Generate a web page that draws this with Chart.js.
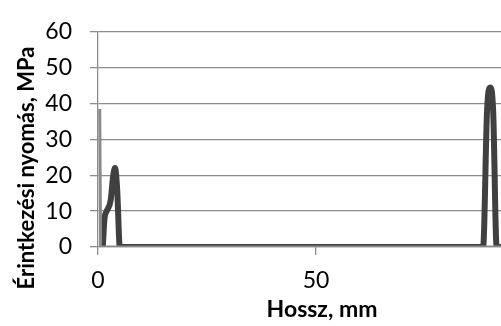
<!DOCTYPE html>
<html>
<head>
<meta charset="utf-8">
<script src="https://cdn.jsdelivr.net/npm/chart.js@4/dist/chart.umd.min.js"></script>
<style>
html,body{margin:0;padding:0;background:#fff;overflow:hidden;}
#wrap{width:501px;height:326px;}
</style>
</head>
<body>
<div id="wrap"><canvas id="c" width="501" height="326"></canvas></div>
<script>
// Series A (light grey): position along length, mm / contact pressure, MPa
const greyX = [0.4, 0.6, 92.4];
const greyY = [38.5, 0, 0];
// Series B (dark grey)
const darkX = [1.1, 1.5, 2.0, 2.9, 3.5, 3.9, 4.4, 5.0, 88.3, 89.2, 89.9, 90.6, 91.4, 92.4];
const darkY = [0, 8, 10, 13, 20, 22, 16, 0, 0, 38, 44.5, 38, 0, 0];
// Axes
const xTicks = [0, 50];
const yTicks = [0, 10, 20, 30, 40, 50, 60];
const xTitle = 'Hossz, mm';
const yTitle = 'Érintkezési nyomás, MPa';

const toPts = (xs, ys) => xs.map((x, i) => ({x, y: ys[i]}));
const FONT = 'Lato';
const GRID = '#8c8c8c';

const titlePlugin = {
  id: 'titles',
  afterDraw(chart) {
    const ctx = chart.ctx;
    ctx.save();
    ctx.fillStyle = '#000';
    ctx.textAlign = 'center';
    ctx.textBaseline = 'alphabetic';
    ctx.font = 'bold 23px ' + FONT;
    ctx.fillText(xTitle, 322, 317);
    ctx.font = 'bold 22px ' + FONT;
    ctx.translate(34, 168);
    ctx.rotate(-Math.PI / 2);
    ctx.fillText(yTitle, 0, 0);
    ctx.restore();
  }
};

new Chart(document.getElementById('c'), {
  type: 'line',
  data: {
    datasets: [
      {
        data: toPts(darkX, darkY),
        borderColor: '#404040',
        borderWidth: 6,
        pointRadius: 0,
        cubicInterpolationMode: 'monotone',
        borderJoinStyle: 'round',
        borderCapStyle: 'round',
        fill: false,
        order: 2
      },
      {
        data: toPts(greyX, greyY),
        borderColor: '#8a8a8a',
        borderWidth: 3,
        pointRadius: 0,
        tension: 0,
        fill: false,
        order: 1
      }
    ]
  },
  options: {
    responsive: false,
    animation: false,
    events: [],
    layout: {padding: {top: 23, left: 0, right: 0, bottom: 0}},
    plugins: {legend: {display: false}, tooltip: {enabled: false}},
    scales: {
      x: {
        type: 'linear',
        min: 0,
        max: 92.4,
        afterFit(s) { s.height = 79; },
        afterBuildTicks(s) { s.ticks = xTicks.map(v => ({value: v})); },
        ticks: {
          includeBounds: false,
          color: '#000',
          font: {family: FONT, size: 23},
          padding: 12,
          maxRotation: 0
        },
        grid: {drawOnChartArea: false, drawTicks: true, tickLength: 8, color: GRID, lineWidth: 1.3},
        border: {display: true, color: GRID, width: 1.3}
      },
      y: {
        min: 0,
        max: 60,
        afterFit(s) { s.width = 98; },
        afterBuildTicks(s) { s.ticks = yTicks.map(v => ({value: v})); },
        ticks: {
          color: '#000',
          font: {family: FONT, size: 23},
          padding: 18
        },
        grid: {color: GRID, lineWidth: 1.3, tickLength: 8, drawTicks: true},
        border: {display: true, color: GRID, width: 1.3}
      }
    }
  },
  plugins: [titlePlugin]
});
</script>
</body>
</html>
